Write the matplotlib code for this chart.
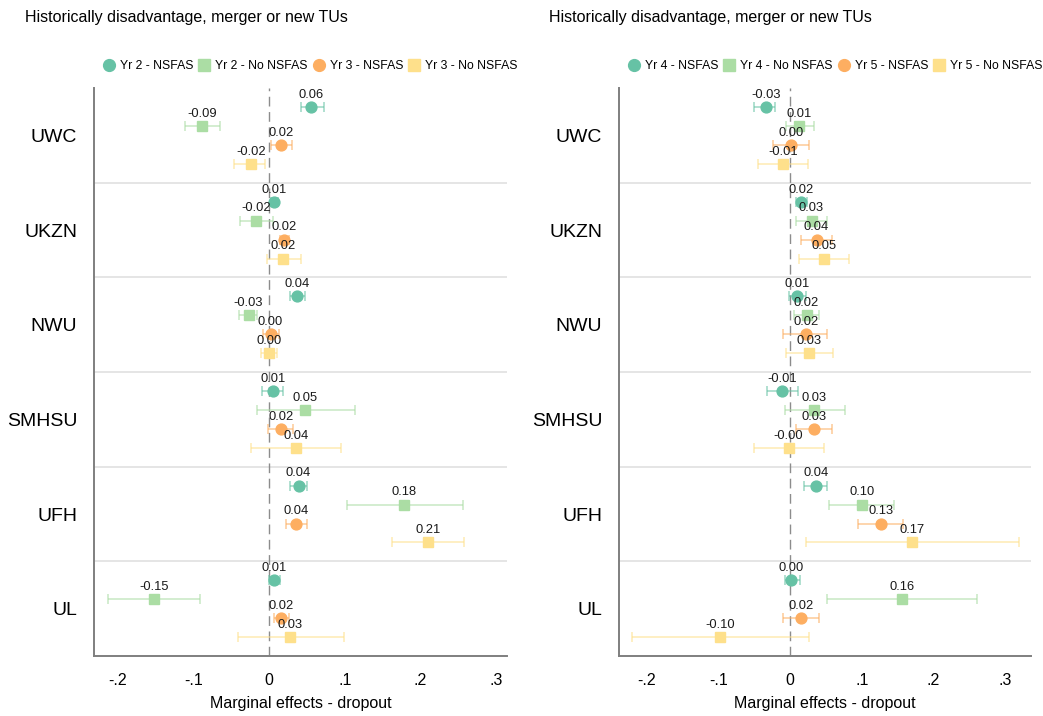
import matplotlib
matplotlib.use("Agg")
import matplotlib.pyplot as plt
from matplotlib.lines import Line2D

plt.rcParams['font.family'] = ['Liberation Sans', 'DejaVu Sans']

unis = ['UWC', 'UKZN', 'NWU', 'SMHSU', 'UFH', 'UL']

# left panel: years 2 and 3
yr2_nsfas = [0.056, 0.007, 0.037, 0.005, 0.039, 0.007]
yr2_nsfas_lo = [0.042, 0.002, 0.028, -0.009, 0.028, 0.000]
yr2_nsfas_hi = [0.072, 0.012, 0.048, 0.019, 0.050, 0.015]
yr2_no = [-0.088, -0.017, -0.027, 0.048, 0.178, -0.152]
yr2_no_lo = [-0.111, -0.038, -0.039, -0.016, 0.103, -0.213]
yr2_no_hi = [-0.065, 0.005, -0.016, 0.113, 0.256, -0.091]
yr3_nsfas = [0.016, 0.020, 0.002, 0.016, 0.036, 0.016]
yr3_nsfas_lo = [0.002, 0.014, -0.008, -0.001, 0.023, 0.006]
yr3_nsfas_hi = [0.030, 0.026, 0.013, 0.032, 0.050, 0.026]
yr3_no = [-0.024, 0.019, 0.000, 0.036, 0.210, 0.028]
yr3_no_lo = [-0.046, -0.003, -0.010, -0.024, 0.163, -0.041]
yr3_no_hi = [-0.005, 0.042, 0.011, 0.095, 0.257, 0.099]

# right panel: years 4 and 5
yr4_nsfas = [-0.034, 0.016, 0.010, -0.011, 0.036, 0.002]
yr4_nsfas_lo = [-0.050, 0.008, -0.001, -0.032, 0.020, -0.007]
yr4_nsfas_hi = [-0.021, 0.024, 0.022, 0.011, 0.051, 0.014]
yr4_no = [0.013, 0.030, 0.023, 0.034, 0.100, 0.156]
yr4_no_lo = [-0.006, 0.009, 0.005, -0.007, 0.054, 0.052]
yr4_no_hi = [0.033, 0.051, 0.041, 0.076, 0.145, 0.261]
yr5_nsfas = [0.001, 0.037, 0.022, 0.034, 0.127, 0.016]
yr5_nsfas_lo = [-0.024, 0.016, -0.010, 0.009, 0.095, -0.010]
yr5_nsfas_hi = [0.026, 0.059, 0.052, 0.059, 0.158, 0.041]
yr5_no = [-0.010, 0.047, 0.027, -0.002, 0.170, -0.097]
yr5_no_lo = [-0.045, 0.013, -0.005, -0.050, 0.022, -0.221]
yr5_no_hi = [0.025, 0.082, 0.060, 0.047, 0.319, 0.027]

title = 'Historically disadvantage, merger or new TUs'
colors = ['#66c2a5', '#abdda4', '#fdae61', '#fee08b']
markers = ['o', 's', 'o', 's']
offsets = [0.3, 0.1, -0.1, -0.3]

left_series = [
    ('Yr 2 - NSFAS', yr2_nsfas, yr2_nsfas_lo, yr2_nsfas_hi),
    ('Yr 2 - No NSFAS', yr2_no, yr2_no_lo, yr2_no_hi),
    ('Yr 3 - NSFAS', yr3_nsfas, yr3_nsfas_lo, yr3_nsfas_hi),
    ('Yr 3 - No NSFAS', yr3_no, yr3_no_lo, yr3_no_hi),
]
right_series = [
    ('Yr 4 - NSFAS', yr4_nsfas, yr4_nsfas_lo, yr4_nsfas_hi),
    ('Yr 4 - No NSFAS', yr4_no, yr4_no_lo, yr4_no_hi),
    ('Yr 5 - NSFAS', yr5_nsfas, yr5_nsfas_lo, yr5_nsfas_hi),
    ('Yr 5 - No NSFAS', yr5_no, yr5_no_lo, yr5_no_hi),
]

fig = plt.figure(figsize=(10.43, 7.16), dpi=100)
ax1 = fig.add_axes([0.0901, 0.0838, 0.396, 0.793])
ax2 = fig.add_axes([0.5935, 0.0838, 0.395, 0.793])


def draw_panel(ax, series, xlim, title_x, leg_x):
    n = len(unis)
    centers = [n - i for i in range(n)]
    for k, (name, vals, lo, hi) in enumerate(series):
        ys = [c + offsets[k] for c in centers]
        err = [[v - l for v, l in zip(vals, lo)], [h - v for v, h in zip(vals, hi)]]
        ax.errorbar(vals, ys, xerr=err, fmt='none', ecolor=colors[k], alpha=0.6,
                    elinewidth=1.2, capsize=3.3, capthick=1.2, zorder=2)
        ax.plot(vals, ys, linestyle='none', marker=markers[k], color=colors[k],
                markersize=7.8, zorder=3)
        for v, y in zip(vals, ys):
            ax.annotate('%.2f' % v, (v, y), xytext=(0, 4.5), textcoords='offset points',
                        ha='center', va='bottom', fontsize=9.3, color='#1a1a1a', zorder=4)
    for b in range(1, n):
        ax.axhline(b + 0.5, color='#e3e3e3', linewidth=1.3, zorder=0)
    ax.axvline(0, color='#8c8c8c', linestyle=(0, (7, 4)), linewidth=1.0, zorder=1)
    ax.set_ylim(0.5, n + 0.5)
    ax.set_xlim(*xlim)
    ax.set_yticks(centers)
    ax.set_yticklabels(unis, fontsize=14)
    ax.set_xticks([-0.2, -0.1, 0, 0.1, 0.2, 0.3])
    ax.set_xticklabels(['-.2', '-.1', '0', '.1', '.2', '.3'], fontsize=11.5)
    ax.tick_params(axis='both', length=0)
    ax.tick_params(axis='y', pad=12)
    ax.tick_params(axis='x', pad=12)
    ax.set_xlabel('Marginal effects - dropout', fontsize=11.5, labelpad=6)
    for s in ['top', 'right']:
        ax.spines[s].set_visible(False)
    for s in ['left', 'bottom']:
        ax.spines[s].set_color('#7f7f7f')
        ax.spines[s].set_linewidth(1.4)
    fig.text(title_x, 0.976, title, fontsize=11.5, ha='left', va='center')
    handles = [Line2D([], [], linestyle='none', marker=markers[k], color=colors[k],
                      markersize=8.5) for k in range(4)]
    fig.legend(handles, [s[0] for s in series], loc='center', ncol=4,
               bbox_to_anchor=(leg_x, 0.908), frameon=False, fontsize=8.8,
               handletextpad=0.3, columnspacing=0.3, handlelength=1.2)


draw_panel(ax1, left_series, (-0.2312, 0.3144), 0.024, 0.297)
draw_panel(ax2, right_series, (-0.2385, 0.3361), 0.526, 0.80)

plt.savefig('out.png', dpi=100)
